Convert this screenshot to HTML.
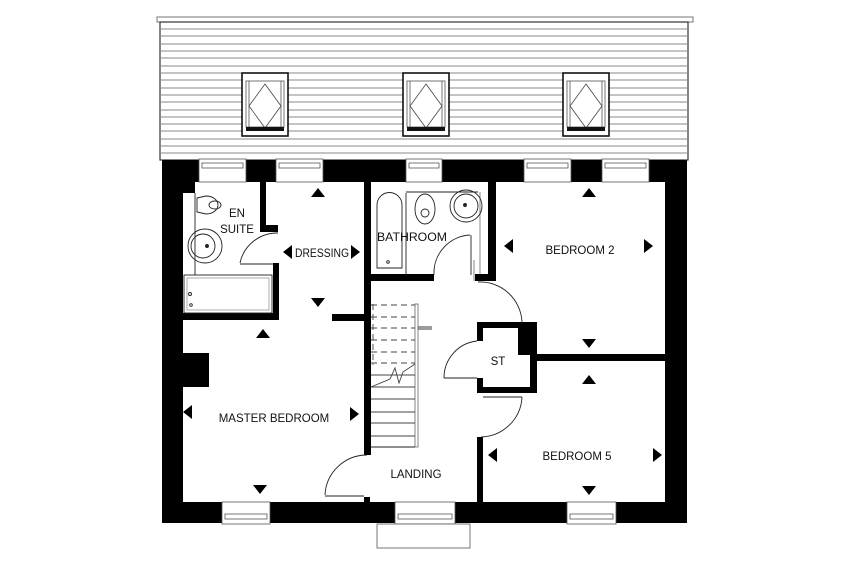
<!DOCTYPE html>
<html><head><meta charset="utf-8"><style>
html,body{margin:0;padding:0;background:#fff;}
svg{display:block;}
text{font-family:"Liberation Sans",sans-serif;font-size:11.5px;fill:#111;}
</style></head><body>
<svg width="850" height="567" viewBox="0 0 850 567" xmlns="http://www.w3.org/2000/svg">
<!-- roof -->
<rect x="157" y="17" width="536" height="5" fill="#fff" stroke="#777" stroke-width="1"/>
<rect x="160" y="22" width="528" height="138" fill="#fff" stroke="#333" stroke-width="1.2"/>
<g stroke="#888" stroke-width="0.9">
<line x1="160" y1="29" x2="688" y2="29"/><line x1="160" y1="36" x2="688" y2="36"/><line x1="160" y1="44" x2="688" y2="44"/><line x1="160" y1="51" x2="688" y2="51"/><line x1="160" y1="58" x2="688" y2="58"/><line x1="160" y1="66" x2="688" y2="66"/><line x1="160" y1="73" x2="688" y2="73"/><line x1="160" y1="80" x2="688" y2="80"/><line x1="160" y1="88" x2="688" y2="88"/><line x1="160" y1="95" x2="688" y2="95"/><line x1="160" y1="102" x2="688" y2="102"/><line x1="160" y1="110" x2="688" y2="110"/><line x1="160" y1="117" x2="688" y2="117"/><line x1="160" y1="124" x2="688" y2="124"/><line x1="160" y1="131" x2="688" y2="131"/><line x1="160" y1="139" x2="688" y2="139"/><line x1="160" y1="146" x2="688" y2="146"/><line x1="160" y1="153" x2="688" y2="153"/>
</g>
<defs>
<g id="rw">
<rect x="0" y="0" width="46" height="63" fill="#fff" stroke="#111" stroke-width="1.6"/>
<rect x="4" y="8" width="38" height="46" fill="#fff" stroke="#555" stroke-width="0.8"/>
<line x1="7" y1="8" x2="7" y2="54" stroke="#555" stroke-width="0.8"/><line x1="39" y1="8" x2="39" y2="54" stroke="#555" stroke-width="0.8"/>
<polygon points="23,11 39,33 23,55 7,33" fill="none" stroke="#444" stroke-width="0.8"/>
<rect x="4" y="54" width="38" height="4" fill="#111"/>
</g>
</defs>
<use href="#rw" x="242" y="73"/>
<use href="#rw" x="403" y="73"/>
<use href="#rw" x="563" y="73"/>

<!-- walls -->
<g fill="#000">
<rect x="162" y="160" width="525" height="22"/>
<rect x="162" y="160" width="21" height="363"/>
<rect x="665" y="160" width="22" height="363"/>
<rect x="162" y="502" width="525" height="21"/>
<rect x="183" y="182" width="12" height="11"/>
<rect x="260" y="182" width="6" height="50"/>
<rect x="260" y="225" width="18" height="7"/>
<rect x="273" y="263" width="6" height="57"/>
<rect x="183" y="313" width="96" height="7"/>
<rect x="332" y="314" width="32" height="7"/>
<rect x="364" y="182" width="7" height="273"/>
<rect x="364" y="497" width="6" height="5"/>
<rect x="371" y="274" width="63" height="7"/>
<rect x="488" y="182" width="8" height="99"/>
<rect x="475" y="274" width="21" height="7"/>
<rect x="477" y="322" width="60" height="6"/>
<rect x="518" y="322" width="19" height="33"/>
<rect x="530" y="322" width="7" height="70"/>
<rect x="477" y="387" width="60" height="6"/>
<rect x="477" y="322" width="6" height="19"/>
<rect x="477" y="378" width="6" height="15"/>
<rect x="537" y="354" width="128" height="7"/>
<rect x="477" y="437" width="6" height="65"/>
<rect x="183" y="353" width="26" height="34"/>
</g>

<!-- windows -->
<g fill="#fff" stroke="#555" stroke-width="0.8">
<rect x="199" y="159" width="47" height="23"/><rect x="202" y="163" width="41" height="5"/>
<rect x="276" y="159" width="47" height="23"/><rect x="279" y="163" width="41" height="5"/>
<rect x="406" y="159" width="36" height="23"/><rect x="409" y="163" width="30" height="5"/>
<rect x="524" y="159" width="47" height="23"/><rect x="527" y="163" width="41" height="5"/>
<rect x="602" y="159" width="47" height="23"/><rect x="605" y="163" width="41" height="5"/>
<rect x="222" y="502" width="48" height="22"/><rect x="225" y="514" width="42" height="5"/>
<rect x="395" y="502" width="60" height="22"/><rect x="398" y="514" width="54" height="5"/>
<rect x="567" y="502" width="49" height="22"/><rect x="570" y="514" width="43" height="5"/>
<rect x="377" y="524" width="93" height="24"/>
</g>

<!-- fixtures -->
<g fill="none" stroke="#222" stroke-width="0.9">
<line x1="195" y1="193" x2="195" y2="275"/>
<rect x="184" y="275" width="88" height="38"/>
<rect x="187" y="278" width="82" height="32" stroke="#777" stroke-width="0.6"/>
<circle cx="190" cy="294" r="1.5"/><circle cx="191" cy="305" r="1.3"/>
<path d="M197,198 L206,196 A12,9 0 1 1 206,214 L197,212 Z"/>
<ellipse cx="215" cy="205" rx="6" ry="4"/>
<circle cx="205" cy="246" r="17"/><circle cx="203" cy="246" r="12"/>
<circle cx="207" cy="246" r="1.5" fill="#222"/>
<path d="M278,233 A38,38 0 0 0 240,263"/>
<line x1="240" y1="264" x2="273" y2="264"/>
<path d="M377,268 L377,205 A12.5,12.5 0 0 1 402,205 L402,268 Z"/>
<circle cx="388" cy="262" r="1.3"/>
<line x1="406" y1="193" x2="406" y2="274"/>
<line x1="406" y1="192" x2="478" y2="192"/>
<line x1="480" y1="192" x2="480" y2="274" stroke="#777"/>
<ellipse cx="425" cy="209" rx="10" ry="15"/><ellipse cx="425" cy="213" rx="4" ry="4"/>
<circle cx="466" cy="206" r="16"/><circle cx="466" cy="206" r="12"/><circle cx="465" cy="205" r="1.5" fill="#222"/>
<path d="M470,235 A38,38 0 0 0 434,275"/>
<line x1="471" y1="235" x2="471" y2="275"/>
<path d="M478,282 A42,42 0 0 1 522,322"/>
<line x1="474" y1="260" x2="474" y2="281" stroke="#777"/>
<path d="M477,341 A37,37 0 0 0 444,378"/>
<line x1="444" y1="378" x2="477" y2="378"/>
<line x1="483" y1="397" x2="522" y2="397"/>
<path d="M522,397 A42,42 0 0 1 481,437"/>
<path d="M367,455 A42,42 0 0 0 325,495"/>
<line x1="325" y1="496" x2="364" y2="496"/>
<rect x="415" y="304" width="3" height="143" stroke="#777"/>
<line x1="371" y1="447" x2="415" y2="447"/>
<line x1="432" y1="327" x2="418" y2="327"/><line x1="432" y1="329" x2="418" y2="329"/>
</g>
<g stroke="#444" stroke-width="0.9" stroke-dasharray="6,4">
<line x1="371" y1="305" x2="415" y2="305"/><line x1="371" y1="317" x2="415" y2="317"/><line x1="371" y1="328" x2="415" y2="328"/><line x1="371" y1="340" x2="415" y2="340"/><line x1="371" y1="352" x2="415" y2="352"/><line x1="371" y1="363" x2="415" y2="363"/>
<line x1="373" y1="304" x2="373" y2="365"/>
</g>
<g stroke="#444" stroke-width="0.9">
<line x1="371" y1="375" x2="415" y2="375"/><line x1="371" y1="387" x2="415" y2="387"/><line x1="371" y1="399" x2="415" y2="399"/><line x1="371" y1="412" x2="415" y2="412"/><line x1="371" y1="423" x2="415" y2="423"/><line x1="371" y1="436" x2="415" y2="436"/>
<polyline fill="none" points="371,387 390,379 395,368 399,383 403,372 415,364"/>
</g>

<!-- arrows -->
<g fill="#000">
<polygon points="311,197 325,197 318,188"/><polygon points="311,298 325,298 318,307"/><polygon points="292,245 292,259 283,252"/><polygon points="351,245 351,259 360,252"/>
<polygon points="582,197 596,197 589,188"/><polygon points="582,339 596,339 589,348"/><polygon points="513,239 513,253 504,246"/><polygon points="644,239 644,253 653,246"/>
<polygon points="256,338 270,338 263,329"/><polygon points="253,485 267,485 260,494"/><polygon points="192,405 192,419 183,412"/><polygon points="350,407 350,421 359,414"/>
<polygon points="582,384 596,384 589,375"/><polygon points="582,486 596,486 589,495"/><polygon points="497,448 497,462 488,455"/><polygon points="653,448 653,462 662,455"/>
</g>

<!-- labels -->
<text x="237" y="217" text-anchor="middle">EN</text>
<text x="237" y="233" text-anchor="middle">SUITE</text>
<text x="322" y="257" text-anchor="middle" textLength="54" lengthAdjust="spacingAndGlyphs">DRESSING</text>
<text x="412" y="241" text-anchor="middle" textLength="70" lengthAdjust="spacingAndGlyphs">BATHROOM</text>
<text x="580" y="254" text-anchor="middle">BEDROOM 2</text>
<text x="498" y="365" text-anchor="middle">ST</text>
<text x="274" y="422" text-anchor="middle">MASTER BEDROOM</text>
<text x="416" y="478" text-anchor="middle">LANDING</text>
<text x="577" y="460" text-anchor="middle">BEDROOM 5</text>
</svg>
</body></html>
